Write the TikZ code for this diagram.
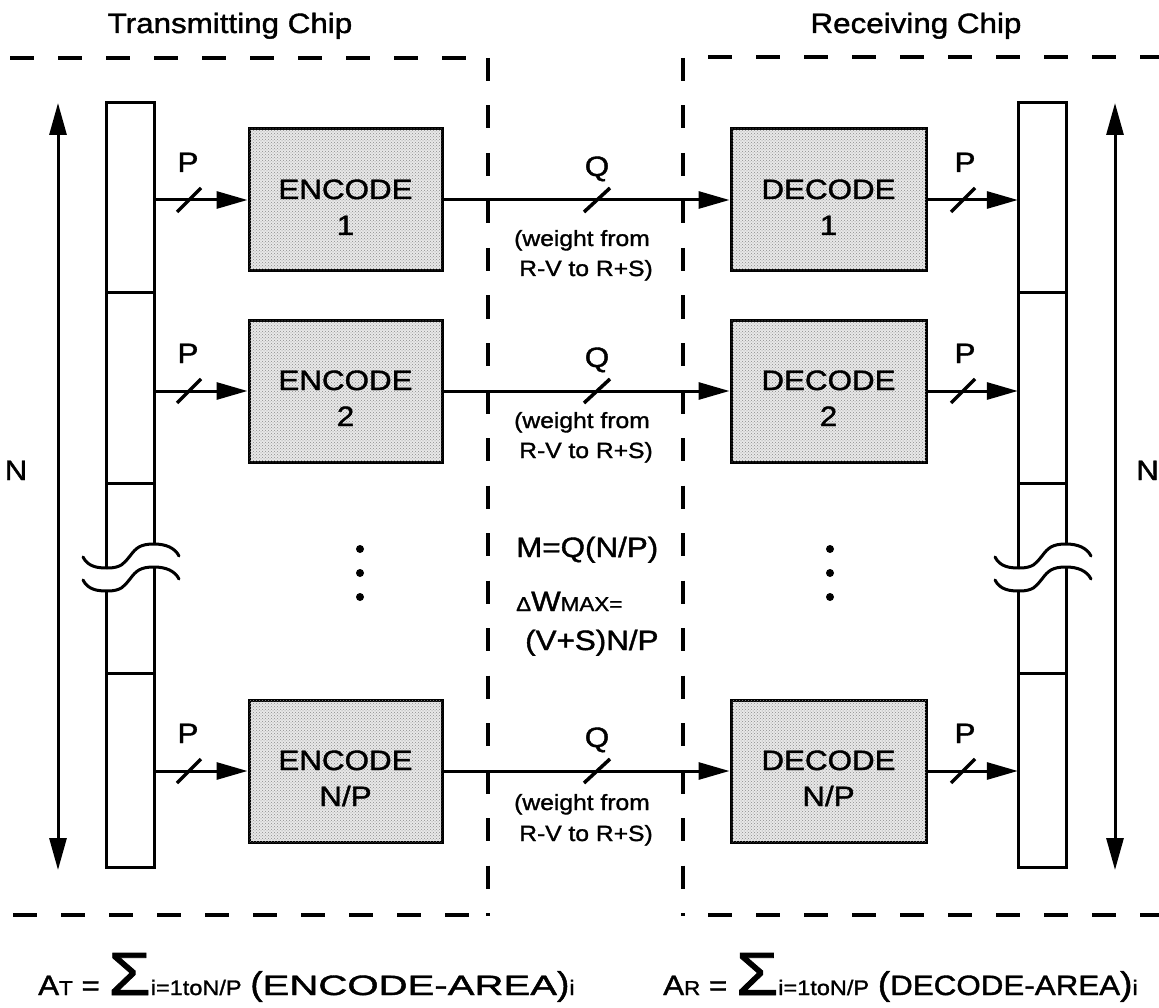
\documentclass[tikz,border=0pt]{standalone}
\usepackage{fontspec}
\usepackage{graphicx}
\setmainfont[FakeStretch=1.12, FakeBold=1.4]{Liberation Sans}
\usetikzlibrary{arrows.meta,patterns,calc}
\newcommand\fsz[1]{\fontsize{#1}{#1}\selectfont}

\begin{document}
\begin{tikzpicture}[x=1pt,y=-1pt,
  every node/.style={inner sep=0pt, font=\fsz{28}},
  stroke/.style={line width=3pt},
  chipline/.style={line width=3.5pt, dash pattern=on 24pt off 24pt},
  vchipline/.style={line width=3.5pt, dash pattern=on 23pt off 24.5pt},
  codebox/.style={draw, line width=3pt, minimum height=142pt,
    fill=black!9, postaction={pattern=crosshatch dots, pattern color=black!45}},
  bus/.style={line width=3pt, -{Triangle[length=31pt,width=17pt]}},
  span/.style={line width=3pt, {Triangle[length=32pt,width=17pt]}-{Triangle[length=32pt,width=17pt]}},
  slash/.style={line width=3.5pt},
  small/.style={font=\fsz{22}},
  register/.pic={
    \draw[stroke] (0,568) -- (0,103) -- (48,103) -- (48,544);
    \draw[stroke] (0,591) -- (0,867) -- (48,867) -- (48,567);
    \draw[stroke] (0,293) -- (48,293) (0,483) -- (48,483) (0,673) -- (48,673);
    \foreach \dy in {0,23}{
      \draw[stroke, line cap=round] (-23,557+\dy) .. controls (-18,567+\dy) and (-8,568+\dy) .. (1,568+\dy)
        .. controls (16,568+\dy) and (18,563+\dy) .. (24,556+\dy)
        .. controls (30,548+\dy) and (34,544+\dy) .. (48,544+\dy)
        .. controls (60,544+\dy) and (69,548+\dy) .. (73,556+\dy);
    }
  }
]
\useasboundingbox (0,0) rectangle (1159,1008);

% chip boundaries
\draw[chipline] (10,58) -- (466,58);
\draw[chipline] (708,57) -- (1175,57);
\draw[vchipline] (488,58) -- (488,916);
\draw[vchipline] (683,58) -- (683,916);
\draw[chipline] (13,915) -- (469,915);
\draw[chipline] (708,915) -- (1175,915);

% chip titles
\node[anchor=base] (ttx) at (230,33) {Transmitting Chip};
\node[anchor=base] (trx) at (916,33) {Receiving Chip};

% shift registers
\pic at (106,0) {register};
\pic at (1018,0) {register};
\node[minimum width=48pt, minimum height=764pt] (regL) at (130,485) {};
\node[minimum width=48pt, minimum height=764pt] (regR) at (1042,485) {};

% word-length spans
\coordinate (nLt) at (58,103);
\coordinate (nLb) at (58,870);
\coordinate (nRt) at (1115,103);
\coordinate (nRb) at (1115,870);
\draw[span] (nLt) -- (nLb);
\draw[span] (nRt) -- (nRb);
\node[anchor=base] (nL) at (16,480) {N};
\node[anchor=base west] (nR) at (1136,480) {N};

% encoders and decoders
\foreach \r/\y/\lab/\wa/\wb in {1/200/1/246/276, 2/391/2/428/458, 3/771/{N/P}/810/841}{
  \node[codebox, minimum width=193pt] (e\r) at (345.5,\y) {};
  \node[codebox, minimum width=195pt] (d\r) at (828.5,\y) {};
  \node[anchor=base] (e\r a) at (345.5,\y-1) {ENCODE};
  \node[anchor=base] (e\r b) at (345.5,\y+35) {\lab};
  \node[anchor=base] (d\r a) at (828.5,\y-1) {DECODE};
  \node[anchor=base] (d\r b) at (828.5,\y+35) {\lab};
  % buses
  \draw[bus] (e\r.west -| regL.east) -- (e\r.west);
  \draw[bus] (e\r.east) -- (d\r.west);
  \draw[bus] (d\r.east) -- (d\r.east -| regR.west);
  % bus width marks
  \draw[slash] (189,\y) +(-12,12) -- +(12,-12);
  \draw[slash] (597,\y) +(-13,12) -- +(13,-12);
  \draw[slash] (963,\y) +(-12,12) -- +(12,-12);
  \node[anchor=base] (pin\r) at (188,\y-28) {P};
  \node[anchor=base] (q\r) at (597,\y-24) {Q};
  \node[anchor=base] (pout\r) at (965,\y-28) {P};
  \node[small, anchor=base] (w\r a) at (582,\wa) {(weight from};
  \node[small, anchor=base] (w\r b) at (586,\wb) {R-V to R+S)};
}

% omitted rows
\foreach \yy in {549,573,597}{
  \fill (360,\yy) circle (4);
  \fill (830,\yy) circle (4);
}

% totals
\node[anchor=base west] (mq) at (516,557) {M=Q(N/P)};
\node[anchor=base west] (dw) at (516,611) {{\fsz{20}Δ}W{\fsz{20}MAX=}};
\node[anchor=base west] (vs) at (525,650) {(V+S)N/P};

% area formulas
\node[anchor=base west] (at) at (38,995)
  {A{\fsz{20}T} = {\fsz{61}Σ}{\fsz{21}i=1toN/P} {\fsz{33}(}\scalebox{1.28}[1]{ENCODE-AREA}{\fsz{33})}{\fsz{21}i}};
\node[anchor=base west] (ar) at (663,995)
  {A{\fsz{20}R} = {\fsz{61}Σ}{\fsz{21}i=1toN/P} {\fsz{33}(}DECODE-AREA{\fsz{33})}{\fsz{21}i}};
\end{tikzpicture}
\end{document}
